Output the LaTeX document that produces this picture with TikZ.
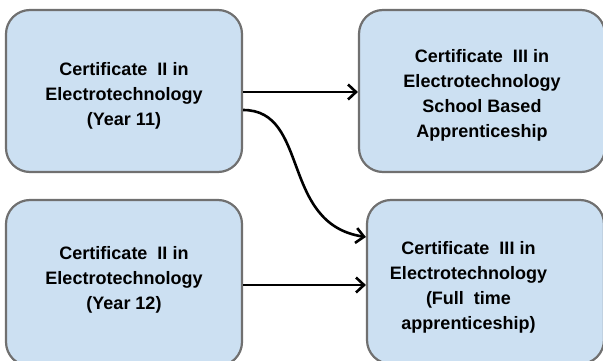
\documentclass[tikz,border=0pt]{standalone}
\usepackage{fontspec}
\setmainfont{Liberation Sans}
\usetikzlibrary{arrows.meta}
\definecolor{boxfill}{RGB}{204,224,242}
\definecolor{boxline}{RGB}{112,112,112}
\tikzset{
  certbox/.style={draw=boxline, fill=boxfill, line width=2.2pt, rounded corners=24pt, inner sep=0pt},
  certtext/.style={align=center, font=\bfseries\fontsize{18}{25}\selectfont, inner sep=0pt},
  flow/.style={line width=2.6pt, -{Straight Barb[length=8pt,width=15pt,line width=2.6pt]}}
}
\begin{document}
\begin{tikzpicture}[x=1pt, y=-1pt]
  \useasboundingbox (0,0) rectangle (603,361);
  \clip (0,0) rectangle (603,361);

  \node[certbox, minimum width=236pt, minimum height=162pt,
    label={[certtext, yshift=-5pt]center:{Certificate \ II in\\Electrotechnology\\(Year 11)}}]
    (c2y11) at (124,91) {};
  \node[certbox, minimum width=246pt, minimum height=162pt,
    label={[certtext, yshift=-4pt]center:{Certificate \ III in\\Electrotechnology\\School Based\\Apprenticeship}}]
    (c3sba) at (482,91) {};
  \node[certbox, minimum width=236pt, minimum height=166pt,
    label={[certtext, yshift=3pt]center:{Certificate \ II in\\Electrotechnology\\(Year 12)}}]
    (c2y12) at (124,283) {};
  \node[certbox, minimum width=237pt, minimum height=164pt,
    label={[certtext, xshift=-17pt, yshift=-5pt]center:{Certificate \ III in\\Electrotechnology\\(Full \ time\\apprenticeship)}}]
    (c3full) at (485.5,282) {};

  \draw[flow] ([yshift=-1pt]c2y11.east) -- ([yshift=-1pt]c3sba.west);
  \draw[flow] ([yshift=-19pt]c2y11.east) .. controls (310,110) and (280,224) .. ([yshift=45pt]c3full.west);
  \draw[flow] ([yshift=-2pt]c2y12.east) -- ([yshift=-3pt]c3full.west);
\end{tikzpicture}
\end{document}
